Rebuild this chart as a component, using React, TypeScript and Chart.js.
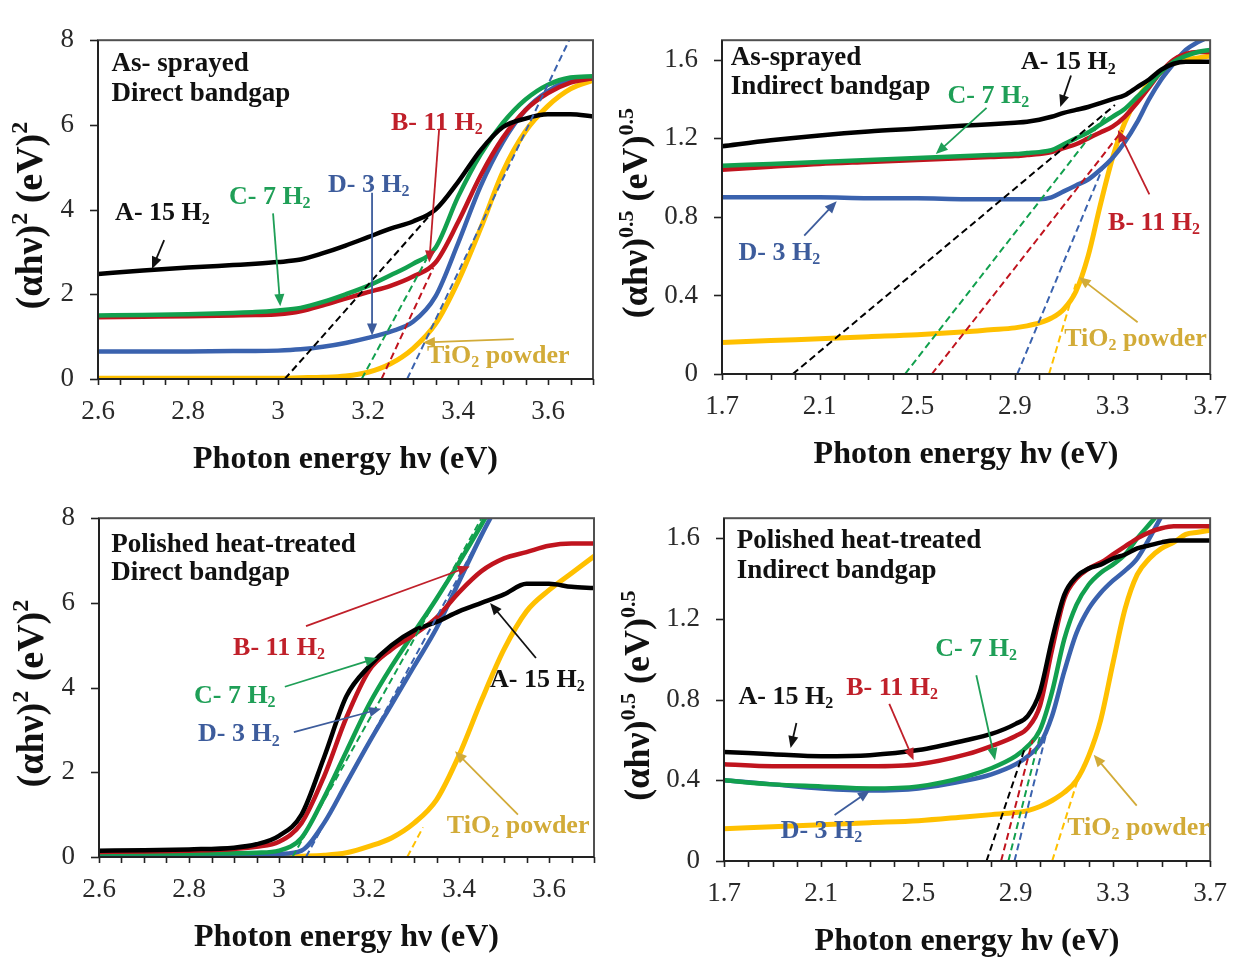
import { useEffect, useRef } from 'react';
import { Chart, registerables } from 'chart.js';

Chart.register(...registerables);

const FONT = '"Liberation Serif", "Times New Roman", Times, serif';

// ---- photon energy grids (eV) ----
const directEnergy = [2.6, 2.7, 2.8, 2.9, 2.95, 3.0, 3.05, 3.1, 3.15, 3.2, 3.25, 3.3, 3.35, 3.4, 3.45, 3.5, 3.55, 3.6, 3.65, 3.7];
const indirectEnergy = [1.7, 1.9, 2.1, 2.3, 2.5, 2.7, 2.8, 2.9, 2.95, 3.0, 3.05, 3.1, 3.15, 3.2, 3.25, 3.3, 3.35, 3.4, 3.45, 3.5, 3.55, 3.6, 3.65, 3.7];

// ---- axis ticks ----
const directTicks = [2.6, 2.8, 3, 3.2, 3.4, 3.6];
const indirectTicks = [1.7, 2.1, 2.5, 2.9, 3.3, 3.7];
const directYTicks = [0, 2, 4, 6, 8];
const indirectYTicks = [0, 0.4, 0.8, 1.2, 1.6];

// ---- as-sprayed, direct: (αhν)^2 ----
const sprayDirectA = [2.48, 2.56, 2.63, 2.69, 2.72, 2.76, 2.82, 2.97, 3.15, 3.35, 3.55, 3.72, 4.0, 4.65, 5.4, 5.95, 6.15, 6.25, 6.25, 6.2];
const sprayDirectB = [1.46, 1.47, 1.48, 1.5, 1.51, 1.53, 1.6, 1.74, 1.9, 2.05, 2.2, 2.42, 2.75, 3.7, 4.8, 5.7, 6.35, 6.75, 7.0, 7.1];
const sprayDirectC = [1.5, 1.51, 1.53, 1.56, 1.58, 1.62, 1.68, 1.82, 2.0, 2.2, 2.45, 2.72, 3.1, 4.3, 5.3, 6.05, 6.6, 6.95, 7.12, 7.15];
const sprayDirectD = [0.65, 0.65, 0.65, 0.66, 0.66, 0.67, 0.7, 0.76, 0.85, 0.97, 1.12, 1.35, 1.95, 3.2, 4.55, 5.6, 6.35, 6.8, 7.05, 7.1];
const sprayDirectT = [0.02, 0.02, 0.02, 0.02, 0.02, 0.02, 0.03, 0.04, 0.07, 0.16, 0.36, 0.72, 1.3, 2.3, 3.55, 4.9, 5.85, 6.45, 6.85, 7.05];
const sprayDirectTanA = [[3.015, 0], [3.335, 3.84]];
const sprayDirectTanB = [[3.23, 0], [3.345, 2.62]];
const sprayDirectTanC = [[3.186, 0], [3.33, 2.83]];
const sprayDirectTanD = [[3.287, 0], [3.647, 8]];

// ---- polished heat-treated, direct: (αhν)^2 ----
const polishDirectA = [0.15, 0.16, 0.18, 0.22, 0.3, 0.5, 1.0, 2.35, 3.8, 4.5, 5.0, 5.35, 5.55, 5.8, 6.0, 6.2, 6.45, 6.45, 6.38, 6.35];
const polishDirectB = [0.12, 0.13, 0.15, 0.19, 0.24, 0.36, 0.8, 1.9, 3.3, 4.4, 4.9, 5.25, 5.65, 6.25, 6.75, 7.05, 7.2, 7.35, 7.4, 7.4];
const polishDirectC = [0.08, 0.08, 0.08, 0.09, 0.1, 0.15, 0.45, 1.4, 2.5, 3.6, 4.5, 5.3, 6.1, 6.95, 7.85, 8.8, null, null, null, null];
const polishDirectD = [0.04, 0.04, 0.04, 0.05, 0.05, 0.07, 0.15, 0.8, 1.75, 2.7, 3.6, 4.5, 5.4, 6.5, 7.6, 8.6, null, null, null, null];
const polishDirectT = [0, 0, 0, 0, 0, 0.01, 0.02, 0.04, 0.1, 0.25, 0.45, 0.8, 1.35, 2.4, 3.7, 4.9, 5.8, 6.3, 6.7, 7.1];
const polishDirectTanC = [[3.03, 0], [3.45, 8]];
const polishDirectTanD = [[3.06, 0], [3.47, 8]];
const polishDirectTanT = [[3.285, 0], [3.32, 0.7]];

// ---- as-sprayed, indirect: (αhν)^0.5 ----
const sprayIndirectA = [1.16, 1.19, 1.215, 1.235, 1.25, 1.265, 1.272, 1.28, 1.285, 1.295, 1.31, 1.33, 1.345, 1.36, 1.38, 1.4, 1.42, 1.46, 1.5, 1.55, 1.58, 1.59, 1.59, 1.59];
const sprayIndirectB = [1.04, 1.055, 1.07, 1.08, 1.09, 1.1, 1.105, 1.11, 1.115, 1.12, 1.13, 1.15, 1.17, 1.2, 1.23, 1.26, 1.31, 1.38, 1.46, 1.54, 1.6, 1.63, 1.64, 1.64];
const sprayIndirectC = [1.06, 1.07, 1.08, 1.09, 1.1, 1.11, 1.115, 1.12, 1.125, 1.13, 1.14, 1.17, 1.2, 1.23, 1.27, 1.31, 1.35, 1.41, 1.47, 1.54, 1.59, 1.62, 1.64, 1.65];
const sprayIndirectD = [0.9, 0.9, 0.9, 0.895, 0.895, 0.89, 0.89, 0.89, 0.89, 0.89, 0.9, 0.93, 0.96, 0.99, 1.04, 1.1, 1.18, 1.28, 1.4, 1.5, 1.58, 1.65, 1.69, 1.72];
const sprayIndirectT = [0.16, 0.17, 0.18, 0.19, 0.2, 0.215, 0.225, 0.235, 0.245, 0.26, 0.285, 0.33, 0.42, 0.6, 0.86, 1.1, 1.28, 1.4, 1.48, 1.54, 1.58, 1.6, 1.61, 1.62];
const sprayIndirectTanA = [[1.99, 0], [3.31, 1.37]];
const sprayIndirectTanB = [[2.56, 0], [3.34, 1.24]];
const sprayIndirectTanC = [[2.45, 0], [3.27, 1.31]];
const sprayIndirectTanD = [[2.91, 0], [3.27, 1.08]];
const sprayIndirectTanT = [[3.04, 0], [3.15, 0.46]];

// ---- polished heat-treated, indirect: (αhν)^0.5 ----
const polishIndirectA = [0.54, 0.53, 0.52, 0.525, 0.55, 0.6, 0.63, 0.68, 0.72, 0.84, 1.1, 1.32, 1.41, 1.45, 1.47, 1.5, 1.52, 1.55, 1.565, 1.58, 1.59, 1.59, 1.59, 1.59];
const polishIndirectB = [0.48, 0.47, 0.47, 0.47, 0.48, 0.53, 0.57, 0.62, 0.66, 0.77, 1.05, 1.3, 1.4, 1.45, 1.48, 1.52, 1.56, 1.6, 1.63, 1.65, 1.66, 1.66, 1.66, 1.66];
const polishIndirectC = [0.4, 0.38, 0.37, 0.36, 0.37, 0.42, 0.46, 0.52, 0.57, 0.65, 0.84, 1.1, 1.27, 1.37, 1.43, 1.47, 1.52, 1.6, 1.67, 1.74, null, null, null, null];
const polishIndirectD = [0.4, 0.38, 0.36, 0.35, 0.36, 0.4, 0.43, 0.48, 0.52, 0.58, 0.72, 0.94, 1.13, 1.25, 1.33, 1.39, 1.44, 1.5, 1.6, 1.71, null, null, null, null];
const polishIndirectT = [0.16, 0.17, 0.18, 0.19, 0.2, 0.22, 0.23, 0.24, 0.25, 0.27, 0.3, 0.34, 0.4, 0.52, 0.7, 0.98, 1.25, 1.42, 1.5, 1.55, 1.58, 1.62, 1.63, 1.64];
const polishIndirectTanA = [[2.78, 0], [2.935, 0.55]];
const polishIndirectTanB = [[2.84, 0], [2.97, 0.6]];
const polishIndirectTanC = [[2.87, 0], [3.0, 0.62]];
const polishIndirectTanD = [[2.895, 0], [3.04, 0.7]];
const polishIndirectTanT = [[3.05, 0], [3.16, 0.42]];

// ---- styling ----
const LINE = { A: '#000000', B: '#c0141e', C: '#12a04e', D: '#3a62ae', T: '#ffc000' };
const TEXT = { A: '#111111', B: '#c0202a', C: '#1f9f57', D: '#3d5c9c', T: '#d2ab38' };
type Key = keyof typeof LINE;

type Note = { key: Key; text: string; at: [number, number]; arrow?: [number, number, number, number] };
type Spec = {
  left: number; top: number; width: number; height: number;
  area: { left: number; right: number; top: number; bottom: number };
  energy: number[];
  curves: { key: Key; values: (number | null)[] }[];
  tangents: { key: Key; pts: number[][] }[];
  xMin: number; xMax: number; xTicks: number[]; xMinor: number;
  yMax: number; yTicks: number[];
  yTitle: string; yTitleSize: number; yTitleGap: number;
  heading: string[]; headingAt: [number, number, number];
  notes: Note[];
};

const direct = {
  xMin: 2.6, xMax: 3.7, xTicks: directTicks, xMinor: 0.05, yMax: 8, yTicks: directYTicks,
  yTitle: '(αhν)^2 (eV)^2', yTitleSize: 38, yTitleGap: 66, energy: directEnergy,
};
const indirect = {
  xMin: 1.7, xMax: 3.7, xTicks: indirectTicks, xMinor: 0.1, yMax: 1.7, yTicks: indirectYTicks,
  yTitle: '(αhν)^{0.5} (eV)^{0.5}', yTitleSize: 36, yTitleGap: 84, energy: indirectEnergy,
};

const PANELS: Spec[] = [
  {
    ...direct,
    left: 0, top: 0, width: 622, height: 478,
    area: { left: 98, right: 593, top: 23, bottom: 379 },
    curves: [
      { key: 'A', values: sprayDirectA }, { key: 'C', values: sprayDirectC }, { key: 'B', values: sprayDirectB },
      { key: 'D', values: sprayDirectD }, { key: 'T', values: sprayDirectT },
    ],
    tangents: [
      { key: 'A', pts: sprayDirectTanA }, { key: 'B', pts: sprayDirectTanB },
      { key: 'C', pts: sprayDirectTanC }, { key: 'D', pts: sprayDirectTanD },
    ],
    heading: ['As- sprayed', 'Direct bandgap'], headingAt: [2.63, 7.44, 6.72],
    notes: [
      { key: 'A', text: 'A- 15 H_2', at: [2.638, 3.91], arrow: [2.747, 3.28, 2.72, 2.6] },
      { key: 'C', text: 'C- 7 H_2', at: [2.891, 4.29], arrow: [2.989, 3.91, 3.005, 1.72] },
      { key: 'D', text: 'D- 3 H_2', at: [3.111, 4.58], arrow: [3.209, 4.4, 3.209, 1.03] },
      { key: 'B', text: 'B- 11 H_2', at: [3.251, 6.04], arrow: [3.358, 5.89, 3.336, 2.75] },
      { key: 'T', text: 'TiO_2 powder', at: [3.331, 0.54], arrow: [3.524, 0.94, 3.322, 0.86] },
    ],
  },
  {
    ...indirect,
    left: 600, top: 0, width: 644, height: 478,
    area: { left: 122, right: 620, top: 26, bottom: 374 },
    curves: [
      { key: 'A', values: sprayIndirectA }, { key: 'C', values: sprayIndirectC }, { key: 'B', values: sprayIndirectB },
      { key: 'D', values: sprayIndirectD }, { key: 'T', values: sprayIndirectT },
    ],
    tangents: [
      { key: 'A', pts: sprayIndirectTanA }, { key: 'B', pts: sprayIndirectTanB }, { key: 'C', pts: sprayIndirectTanC },
      { key: 'D', pts: sprayIndirectTanD }, { key: 'T', pts: sprayIndirectTanT },
    ],
    heading: ['As-sprayed', 'Indirect bandgap'], headingAt: [1.736, 1.61, 1.463],
    notes: [
      { key: 'A', text: 'A- 15 H_2', at: [2.925, 1.585], arrow: [3.13, 1.52, 3.086, 1.36] },
      { key: 'C', text: 'C- 7 H_2', at: [2.624, 1.414], arrow: [2.784, 1.355, 2.576, 1.12] },
      { key: 'D', text: 'D- 3 H_2', at: [1.768, 0.616], arrow: [2.037, 0.705, 2.17, 0.88] },
      { key: 'B', text: 'B- 11 H_2', at: [3.282, 0.768], arrow: [3.451, 0.915, 3.322, 1.243] },
      { key: 'T', text: 'TiO_2 powder', at: [3.102, 0.176], arrow: [3.403, 0.264, 3.162, 0.494] },
    ],
  },
  {
    ...direct,
    left: 0, top: 478, width: 622, height: 479,
    area: { left: 99, right: 594, top: 27, bottom: 379 },
    curves: [
      { key: 'A', values: polishDirectA }, { key: 'B', values: polishDirectB }, { key: 'C', values: polishDirectC },
      { key: 'D', values: polishDirectD }, { key: 'T', values: polishDirectT },
    ],
    tangents: [
      { key: 'C', pts: polishDirectTanC }, { key: 'D', pts: polishDirectTanD }, { key: 'T', pts: polishDirectTanT },
    ],
    heading: ['Polished heat-treated', 'Direct bandgap'], headingAt: [2.627, 7.36, 6.7],
    notes: [
      { key: 'B', text: 'B- 11 H_2', at: [2.898, 4.93], arrow: [3.06, 5.45, 3.424, 6.86] },
      { key: 'C', text: 'C- 7 H_2', at: [2.811, 3.8], arrow: [3.013, 4.02, 3.218, 4.7] },
      { key: 'D', text: 'D- 3 H_2', at: [2.82, 2.89], arrow: [3.033, 2.95, 3.227, 3.5] },
      { key: 'A', text: 'A- 15 H_2', at: [3.469, 4.18], arrow: [3.571, 4.7, 3.469, 6.0] },
      { key: 'T', text: 'TiO_2 powder', at: [3.373, 0.73], arrow: [3.531, 1.0, 3.391, 2.5] },
    ],
  },
  {
    ...indirect,
    left: 600, top: 478, width: 644, height: 479,
    area: { left: 124, right: 621, top: 25, bottom: 383 },
    curves: [
      { key: 'A', values: polishIndirectA }, { key: 'B', values: polishIndirectB }, { key: 'C', values: polishIndirectC },
      { key: 'D', values: polishIndirectD }, { key: 'T', values: polishIndirectT },
    ],
    tangents: [
      { key: 'A', pts: polishIndirectTanA }, { key: 'B', pts: polishIndirectTanB }, { key: 'C', pts: polishIndirectTanC },
      { key: 'D', pts: polishIndirectTanD }, { key: 'T', pts: polishIndirectTanT },
    ],
    heading: ['Polished heat-treated', 'Indirect bandgap'], headingAt: [1.752, 1.586, 1.439],
    notes: [
      { key: 'A', text: 'A- 15 H_2', at: [1.76, 0.812], arrow: [1.998, 0.684, 1.974, 0.56] },
      { key: 'B', text: 'B- 11 H_2', at: [2.203, 0.859], arrow: [2.38, 0.779, 2.48, 0.5] },
      { key: 'C', text: 'C- 7 H_2', at: [2.569, 1.049], arrow: [2.738, 0.921, 2.815, 0.5] },
      { key: 'D', text: 'D- 3 H_2', at: [1.933, 0.147], arrow: [2.155, 0.228, 2.3, 0.35] },
      { key: 'T', text: 'TiO_2 powder', at: [3.112, 0.161], arrow: [3.398, 0.275, 3.221, 0.527] },
    ],
  },
];

// ---- text helpers: "_x" subscript, "^x" / "^{..}" superscript ----
type Seg = { t: string; s?: 'sup' | 'sub' };
function parseRich(str: string): Seg[] {
  const out: Seg[] = [];
  let buf = '';
  for (let i = 0; i < str.length; i++) {
    const c = str[i];
    if (c === '^' || c === '_') {
      if (buf) { out.push({ t: buf }); buf = ''; }
      let t = '';
      if (str[i + 1] === '{') { const j = str.indexOf('}', i + 2); t = str.slice(i + 2, j); i = j; }
      else { t = str[i + 1]; i++; }
      out.push({ t, s: c === '^' ? 'sup' : 'sub' });
    } else buf += c;
  }
  if (buf) out.push({ t: buf });
  return out;
}

function drawRich(ctx: CanvasRenderingContext2D, str: string, x: number, y: number, size: number, color: string, align: 'left' | 'center') {
  const segs = parseRich(str);
  const font = (s?: string) => `bold ${s ? Math.round(size * 0.62) : size}px ${FONT}`;
  let total = 0;
  for (const g of segs) { ctx.font = font(g.s); total += ctx.measureText(g.t).width; }
  let cx = align === 'center' ? x - total / 2 : x;
  ctx.fillStyle = color;
  ctx.textBaseline = 'middle';
  ctx.textAlign = 'left';
  for (const g of segs) {
    ctx.font = font(g.s);
    const dy = g.s === 'sup' ? -size * 0.3 : g.s === 'sub' ? size * 0.26 : 0;
    ctx.fillText(g.t, cx, y + dy);
    cx += ctx.measureText(g.t).width;
  }
}

function drawArrow(ctx: CanvasRenderingContext2D, x1: number, y1: number, x2: number, y2: number, color: string) {
  const head = 12;
  const ang = Math.atan2(y2 - y1, x2 - x1);
  const c = Math.cos(ang), s = Math.sin(ang);
  ctx.strokeStyle = color;
  ctx.lineWidth = 1.8;
  ctx.beginPath();
  ctx.moveTo(x1, y1);
  ctx.lineTo(x2 - c * head * 0.8, y2 - s * head * 0.8);
  ctx.stroke();
  ctx.fillStyle = color;
  ctx.beginPath();
  ctx.moveTo(x2, y2);
  ctx.lineTo(x2 - head * c + head * 0.42 * s, y2 - head * s - head * 0.42 * c);
  ctx.lineTo(x2 - head * c - head * 0.42 * s, y2 - head * s + head * 0.42 * c);
  ctx.closePath();
  ctx.fill();
}

function decorations(spec: Spec) {
  return {
    id: 'decorations',
    afterDraw(chart: any) {
      const { ctx, chartArea: a } = chart;
      const xs = chart.scales.x, ys = chart.scales.y;
      ctx.save();
      // frame
      ctx.strokeStyle = '#505050';
      ctx.lineWidth = 2;
      ctx.strokeRect(a.left, a.top, a.right - a.left, a.bottom - a.top);
      ctx.strokeStyle = '#222';
      ctx.beginPath();
      ctx.moveTo(a.left, a.top); ctx.lineTo(a.left, a.bottom); ctx.lineTo(a.right, a.bottom);
      ctx.stroke();
      // tick marks
      ctx.lineWidth = 1.6;
      const n = Math.round((spec.xMax - spec.xMin) / spec.xMinor);
      for (let i = 0; i <= n; i++) {
        const v = spec.xMin + i * spec.xMinor;
        const px = Math.round(xs.getPixelForValue(v)) + 0.5;
        ctx.beginPath(); ctx.moveTo(px, a.bottom); ctx.lineTo(px, a.bottom + 6); ctx.stroke();
      }
      for (const v of spec.yTicks) {
        const py = Math.round(ys.getPixelForValue(v)) + 0.5;
        ctx.beginPath(); ctx.moveTo(a.left - 8, py); ctx.lineTo(a.left, py); ctx.stroke();
      }
      // headings
      const [hx, hy1, hy2] = spec.headingAt;
      drawRich(ctx, spec.heading[0], xs.getPixelForValue(hx), ys.getPixelForValue(hy1), 27, '#111', 'left');
      drawRich(ctx, spec.heading[1], xs.getPixelForValue(hx), ys.getPixelForValue(hy2), 27, '#111', 'left');
      // labels with arrows
      for (const nt of spec.notes) {
        if (nt.arrow) {
          const [x1, y1, x2, y2] = nt.arrow;
          drawArrow(ctx, xs.getPixelForValue(x1), ys.getPixelForValue(y1), xs.getPixelForValue(x2), ys.getPixelForValue(y2), TEXT[nt.key]);
        }
        drawRich(ctx, nt.text, xs.getPixelForValue(nt.at[0]), ys.getPixelForValue(nt.at[1]), 26, TEXT[nt.key], 'left');
      }
      // axis titles
      drawRich(ctx, 'Photon energy hν (eV)', (a.left + a.right) / 2, a.bottom + 81, 32, '#111', 'center');
      ctx.translate(a.left - spec.yTitleGap, (a.top + a.bottom) / 2 + 6);
      ctx.rotate(-Math.PI / 2);
      drawRich(ctx, spec.yTitle, 0, 0, spec.yTitleSize, '#111', 'center');
      ctx.restore();
    },
  };
}

function buildConfig(spec: Spec): any {
  const datasets: any[] = [];
  for (const t of spec.tangents) {
    datasets.push({
      data: t.pts.map(([x, y]) => ({ x, y })),
      borderColor: LINE[t.key], borderWidth: 2, borderDash: [7, 4],
      pointRadius: 0, tension: 0, fill: false,
    });
  }
  for (const c of spec.curves) {
    datasets.push({
      data: spec.energy.map((x, i) => ({ x, y: c.values[i] })),
      borderColor: LINE[c.key], borderWidth: c.key === 'T' ? 5 : 4.5,
      pointRadius: 0, cubicInterpolationMode: 'monotone', spanGaps: false, fill: false,
      borderCapStyle: 'round', borderJoinStyle: 'round',
    });
  }
  const tickFont = { family: FONT, size: 27 };
  return {
    type: 'line',
    data: { datasets },
    options: {
      animation: false,
      responsive: false,
      devicePixelRatio: 1,
      events: [],
      layout: { padding: { left: 0, top: spec.area.top, right: spec.width - spec.area.right, bottom: 0 } },
      plugins: { legend: { display: false }, tooltip: { enabled: false } },
      scales: {
        x: {
          type: 'linear', min: spec.xMin, max: spec.xMax,
          grid: { display: false, drawTicks: false }, border: { display: false },
          ticks: { font: tickFont, color: '#2a2a2a', padding: 17, maxRotation: 0, autoSkip: false, callback: (v: number) => String(v) },
          afterBuildTicks: (s: any) => { s.ticks = spec.xTicks.map((v) => ({ value: v })); },
          afterFit: (s: any) => { s.height = spec.height - spec.area.bottom; },
        },
        y: {
          type: 'linear', min: 0, max: spec.yMax,
          grid: { display: false, drawTicks: false }, border: { display: false },
          ticks: { font: tickFont, color: '#2a2a2a', padding: 24, autoSkip: false, callback: (v: number) => String(v) },
          afterBuildTicks: (s: any) => { s.ticks = spec.yTicks.map((v) => ({ value: v })); },
          afterFit: (s: any) => { s.width = spec.area.left; },
        },
      },
    },
    plugins: [decorations(spec)],
  };
}

function Panel({ spec }: { spec: Spec }) {
  const ref = useRef<HTMLCanvasElement>(null);
  useEffect(() => {
    const chart = new Chart(ref.current as HTMLCanvasElement, buildConfig(spec));
    return () => chart.destroy();
  }, [spec]);
  return (
    <canvas
      ref={ref}
      width={spec.width}
      height={spec.height}
      style={{ position: 'absolute', left: spec.left, top: spec.top, width: spec.width, height: spec.height }}
    />
  );
}

export default function App() {
  return (
    <div style={{ position: 'absolute', left: 0, top: 0, width: 1244, height: 957, background: '#ffffff', overflow: 'hidden' }}>
      {PANELS.map((p, i) => <Panel key={i} spec={p} />)}
    </div>
  );
}
